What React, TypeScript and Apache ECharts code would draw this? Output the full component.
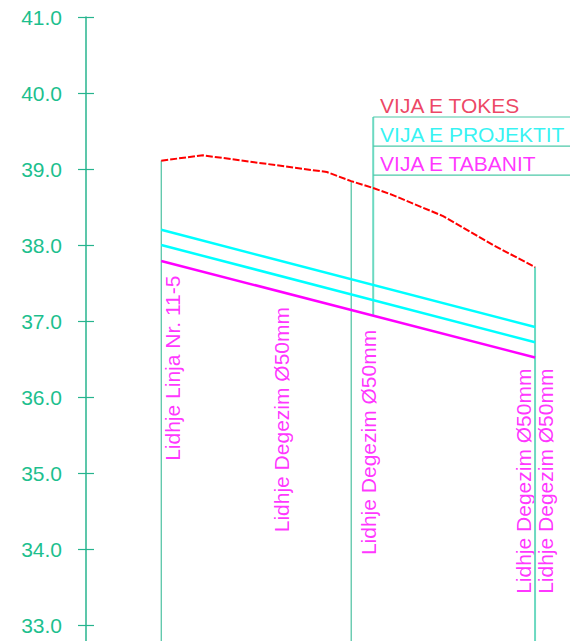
import React, { useEffect, useRef } from "react";
import * as echarts from "echarts";

// ---- data ----
const yMin = 32;
const yMax = 41;
const yInterval = 1;
const xMin = -9.9;
const xMax = 53.8;

// ground line (VIJA E TOKES)
const groundX = [0, 5.5, 21.8, 25, 27.9, 30.4, 37.1, 43.65, 49.2];
const groundY = [39.11, 39.18, 38.96, 38.84, 38.75, 38.66, 38.38, 38.0, 37.71];

// project line (VIJA E PROJEKTIT) – top and bottom of pipe
const projX = [0, 49.2];
const projTopY = [38.2, 36.92];
const projBotY = [38.0, 36.72];

// invert line (VIJA E TABANIT)
const tabX = [0, 49.2];
const tabY = [37.79, 36.52];

// stations (vertical lines)
const stationX = [0, 25, 49.2];
const stationGround = [39.11, 38.84, 37.71];

// pipe connection labels
const pipeLabels = [
  "Lidhje Linja Nr. 11-5",
  "Lidhje Degezim Ø50mm",
  "Lidhje Degezim Ø50mm",
  "Lidhje Degezim Ø50mm",
  "Lidhje Degezim Ø50mm",
];
const pipeLabelX = [1.42, 15.89, 27.34, 47.67, 50.56];
const pipeLabelY = [35.16, 34.22, 33.92, 33.41, 33.41];

// legend callout
const legendNames = ["VIJA E TOKES", "VIJA E PROJEKTIT", "VIJA E TABANIT"];
const legendColors = ["#e8143c", "#00f0f0", "#ff00ff"];
const legendLineY = [39.684, 39.3, 38.92];
const calloutX = 27.9;
const legendTextX = 28.8;

const FONT = "'Liberation Sans', Arial, sans-serif";
const TEAL = "#1dbf8e";
const TEAL_DARK = "#27b48e";
const TEAL_LIGHT = "#6cd9c1";

function tabAt(x: number) {
  const t = (x - tabX[0]) / (tabX[1] - tabX[0]);
  return tabY[0] + t * (tabY[1] - tabY[0]);
}

export default function App() {
  const ref = useRef<HTMLDivElement>(null);
  useEffect(() => {
    document.body.style.margin = "0";
    document.body.style.overflow = "hidden";
    const chart = echarts.init(ref.current!, null, { renderer: "svg" });
    const zip = (xs: number[], ys: number[]) => xs.map((x, i) => [x, ys[i]]);

    const series: any[] = [];
    stationX.forEach((x, i) => {
      series.push({
        type: "line",
        data: [
          [x, stationGround[i]],
          [x, yMin],
        ],
        symbol: "none",
        silent: true,
        lineStyle: {
          color: i === 2 ? TEAL_LIGHT : TEAL_DARK,
          width: i === 2 ? 2 : 1,
        },
      });
    });
    // callout vertical
    series.push({
      type: "line",
      data: [
        [calloutX, tabAt(calloutX)],
        [calloutX, legendLineY[0]],
      ],
      symbol: "none",
      silent: true,
      lineStyle: { color: TEAL_LIGHT, width: 2 },
    });
    legendLineY.forEach((y) => {
      series.push({
        type: "line",
        data: [
          [calloutX, y],
          [xMax, y],
        ],
        symbol: "none",
        silent: true,
        lineStyle: { color: "#4cc8a8", width: 1.2 },
      });
    });
    series.push({
      name: "VIJA E TOKES",
      type: "line",
      data: zip(groundX, groundY),
      symbol: "none",
      lineStyle: { color: "#ff0000", width: 2, type: [7, 2] },
    });
    series.push({
      name: "VIJA E PROJEKTIT",
      type: "line",
      data: zip(projX, projTopY),
      symbol: "none",
      lineStyle: { color: "#00ffff", width: 2.5 },
    });
    series.push({
      name: "VIJA E PROJEKTIT 2",
      type: "line",
      data: zip(projX, projBotY),
      symbol: "none",
      lineStyle: { color: "#00ffff", width: 2.5 },
    });
    series.push({
      name: "VIJA E TABANIT",
      type: "line",
      data: zip(tabX, tabY),
      symbol: "none",
      lineStyle: { color: "#ff00ff", width: 2.5 },
    });
    series.push({
      type: "scatter",
      symbolSize: 1,
      itemStyle: { color: "transparent" },
      silent: true,
      data: pipeLabels.map((t, i) => ({
        name: t,
        value: [pipeLabelX[i], pipeLabelY[i]],
      })),
      label: {
        show: true,
        position: "inside",
        formatter: (p: any) => p.name,
        rotate: 90,
        align: "left",
        verticalAlign: "middle",
        color: "#ff00ff",
        fontSize: 21,
        fontFamily: FONT,
      },
    });
    series.push({
      type: "scatter",
      symbolSize: 1,
      itemStyle: { color: "transparent" },
      silent: true,
      data: legendNames.map((t, i) => ({
        name: t,
        value: [legendTextX, legendLineY[i]],
        label: { color: legendColors[i] },
      })),
      label: {
        show: true,
        position: "inside",
        formatter: (p: any) => p.name,
        align: "left",
        verticalAlign: "bottom",
        offset: [0, -1],
        fontSize: 21,
        fontFamily: FONT,
      },
    });

    chart.setOption({
      animation: false,
      grid: { left: 86, top: 17, width: 484, height: (yMax - yMin) * 76 },
      xAxis: { type: "value", min: xMin, max: xMax, show: false },
      yAxis: [
        {
          type: "value",
          min: yMin,
          max: yMax,
          interval: yInterval,
          axisLine: { show: true, onZero: false, lineStyle: { color: TEAL_DARK, width: 1.5 } },
          axisTick: { show: true, length: 8, lineStyle: { color: TEAL_DARK, width: 1.2 } },
          axisLabel: {
            color: TEAL,
            fontSize: 21,
            fontFamily: FONT,
            margin: 24,
            formatter: (v: number) => (v <= yMin ? "" : v.toFixed(1)),
          },
          splitLine: { show: false },
        },
        {
          type: "value",
          min: yMin,
          max: yMax,
          interval: yInterval,
          position: "left",
          axisLine: { show: false, onZero: false },
          axisTick: { show: true, inside: true, length: 8, lineStyle: { color: TEAL_DARK, width: 1.2 } },
          axisLabel: { show: false },
          splitLine: { show: false },
        },
      ],
      series,
    });
    return () => chart.dispose();
  }, []);
  return (
    <div style={{ width: 570, height: 641, overflow: "hidden" }}>
      <div ref={ref} style={{ width: 570, height: 720 }} />
    </div>
  );
}
